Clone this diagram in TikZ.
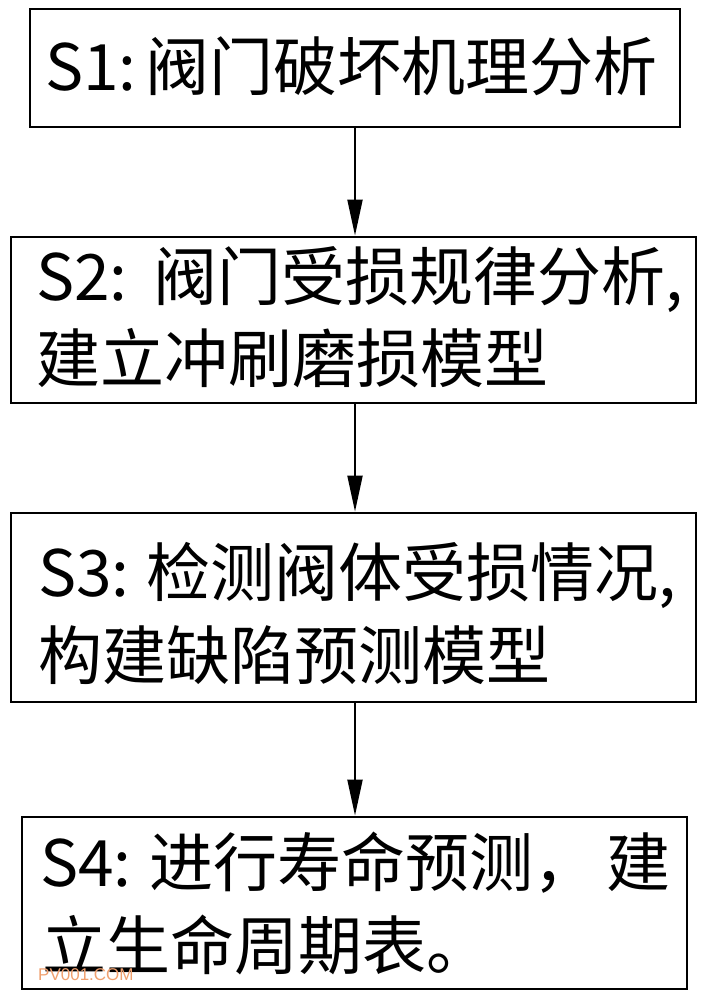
\documentclass[tikz,border=0pt]{standalone}
\usepackage{fontspec}
\setmainfont{Noto Sans CJK SC}
\newfontfamily\wmfont{Liberation Sans}
\usetikzlibrary{arrows.meta}
\definecolor{wmcol}{RGB}{240,160,110}
\begin{document}
\begin{tikzpicture}[x=1pt,y=-1pt,
  stepbox/.style={draw=black, line width=2.8pt, inner sep=0pt},
  txt/.style={anchor=base west, inner sep=0pt, font=\fontsize{64pt}{64pt}\selectfont},
  arr/.style={draw=black, line width=2pt, -{Triangle[length=36pt,width=15pt]}}]
\useasboundingbox (0,0) rectangle (706,1000);
\fill[white] (0,0) rectangle (706,1000);
% boxes
\node[stepbox, minimum width=650pt, minimum height=118pt] (s1) at (355,68) {};
\node[stepbox, minimum width=685pt, minimum height=166pt] (s2) at (353.5,320) {};
\node[stepbox, minimum width=685pt, minimum height=189pt] (s3) at (353.5,607.5) {};
\node[stepbox, minimum width=665pt, minimum height=172pt] (s4) at (354.5,903) {};
% texts
\node[txt] (t1) at (45,91) {\makebox[100pt][l]{S1:}阀门破坏机理分析};
\node[txt] (t2a) at (36,300) {\makebox[117pt][l]{S2:}阀门受损规律分析,};
\node[txt] (t2b) at (36,382) {建立冲刷磨损模型};
\node[txt] (t3a) at (38,596) {\makebox[108pt][l]{S3:}检测阀体受损情况,};
\node[txt] (t3b) at (38,679) {构建缺陷预测模型};
\node[txt] (t4a) at (40,886) {\makebox[109pt][l]{S4:}进行寿命预测，\hspace{9pt}建};
\node[txt] (t4b) at (42,969) {立生命周期表。};
% watermark
\node[anchor=base west, inner sep=0pt, text=wmcol, font=\wmfont\fontsize{17pt}{17pt}\selectfont] (wm) at (38,980) {PV001.COM};
% arrows
\draw[arr] (s1.south) -- (s1.south |- s2.north);
\draw[arr] (s1.south |- s2.south) -- (s1.south |- s3.north);
\draw[arr] (s1.south |- s3.south) -- (s1.south |- s4.north);
\end{tikzpicture}
\end{document}
